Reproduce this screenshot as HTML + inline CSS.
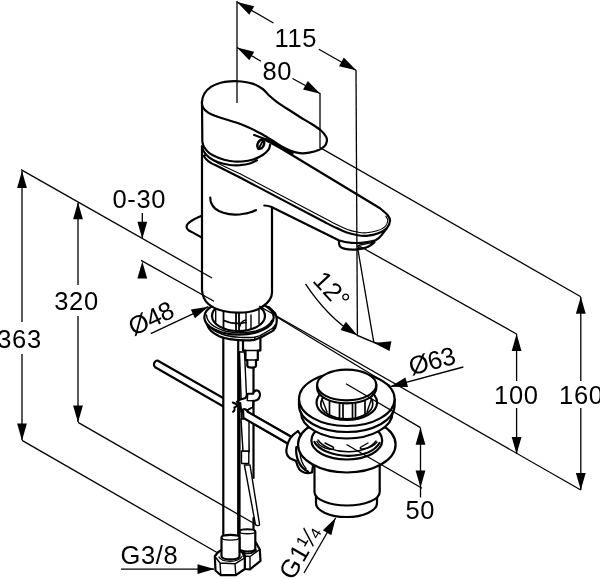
<!DOCTYPE html>
<html><head><meta charset="utf-8">
<style>
html,body{margin:0;padding:0;background:#fff;}
svg{display:block;will-change:transform;}
text{font-family:"Liberation Sans",sans-serif;fill:#000;}
.k{fill:none;stroke:#000;stroke-width:2.2;stroke-linecap:round;stroke-linejoin:round;}
.kw{fill:#fff;stroke:#000;stroke-width:2.2;stroke-linecap:round;stroke-linejoin:round;}
.m{fill:none;stroke:#000;stroke-width:1.4;stroke-linecap:round;stroke-linejoin:round;}
.mw{fill:#fff;stroke:#000;stroke-width:1.4;stroke-linecap:round;stroke-linejoin:round;}
.t{fill:none;stroke:#000;stroke-width:1.3;}
.a{fill:#000;stroke:none;}
</style></head>
<body>
<svg width="600" height="579" viewBox="0 0 600 579">
<rect width="600" height="579" fill="#fff"/>


<!-- ===== OBJECT ===== -->
<g id="obj">
  <!-- horizontal pop-up rod -->
  <path class="kw" d="M157.5 360.5L296 439.5L293 446.5L155.2 367.2A3.4 3.8 30 0 1 157.5 360.5Z"/>
  <!-- right hose -->
  <path class="kw" style="stroke:none" d="M239.500 352V531H253.500V366Z"/>
  <path class="k" d="M239.500 352V531M253.500 366V478M253.500 518V531"/>
  <!-- right nut -->
  <path class="kw" d="M244.700 556L243 541L250 539.500L256 542.700L259.800 549.500L260.500 560.800L250 569.300L244.700 569Z"/>
  <path class="m" d="M244.700 556L250 556.500L259.800 549.500M250 556.500V569.300"/>
  <path class="m" d="M240 551C243 554.500 252 554.500 256.500 550"/>
  <!-- right ferrule -->
  <path class="kw" d="M239.500 531.500C239.500 528.500 255.300 528.500 255.300 531.500V548.500C255.300 552.500 239.500 552.500 239.500 548.500Z"/>
  <path class="m" d="M239.500 531.500C239.500 534.500 255.300 534.500 255.300 531.500"/>
  <!-- left hose -->
  <path class="kw" d="M223.300 335V536H238.200V335"/>
  <!-- left nut -->
  <path class="kw" d="M214.800 556.300L217.800 552.500L223 549H236L242.500 552.500L244.800 557.800V569L235.800 575.200H220.800L215.500 570.500Z"/>
  <path class="m" d="M214.800 556.300L220 563L235 563.800L244.800 557.800M220 563L220.800 575.200M235 563.800L235.800 575.200"/>
  <path class="m" d="M219 557C222 562.500 238 563 242 556.500"/>
  <!-- left ferrule -->
  <path class="kw" d="M221.500 537.500C221.500 534 239.500 534 239.500 537.500V556C239.500 560.500 221.500 560.500 221.500 556Z"/>
  <path class="m" d="M221.500 537.500C221.500 541 239.500 541 239.500 537.500"/>
  <!-- thin vertical rod + clip -->
  <path class="mw" d="M239.5 352L243 452L249 452L244.5 352Z"/>
  <path class="mw" d="M244.4 465L255.3 523.7A2.2 1.5 10 0 0 259.6 524.6L250 465Z"/>
  <path class="mw" d="M241.5 451H248.8V463.5H241.5Z"/>
  <path class="mw" d="M241 419H249V451H243Z"/>
  <!-- clip on hoses -->
  <path class="kw" d="M236.800 401.800L240.500 399.500L245.600 398L247.700 393.800L253.200 393.800C253.800 391.500 255.500 390 257.500 390.500C259.500 391.500 260.200 394 259.800 396C259.300 398.500 257.500 400.500 254.600 400.700L253.200 400.700L253 407L248.300 409.700L241.400 411.800L240.200 403Z" style="stroke-width:2"/>
  <path class="k" d="M247.700 393.800L247.200 400.500M247.200 400.500L253.200 400.700" style="stroke-width:1.500"/>
  <path class="k" d="M232.800 402.500C235 403.300 236.800 404.300 237 405.300C236.300 406.800 235 407.300 234.300 407.500C235.200 409 234.500 411 233 411.800" style="stroke-width:2"/>
  <!-- rod part in front (right of hoses) -->
  <path class="kw" d="M243 409.5C245 408.5 247 409.5 247.6 411.8L296 439.5L293 446.5L243.5 418Z"/>

  <!-- stud below base -->
  <path class="kw" d="M243 341V350.5H245.5V360H247.3V365.5C247.3 368.3 256 368.3 256 365.5V360H257.8V350.5H260.4V338"/>
  <path class="m" d="M243 350.5H260.4M245.5 360H257.8"/>

  <!-- base ring : lower washer / nut -->
  <path class="kw" d="M206.500 320C206.500 327 211 332.500 219.200 336.200C226 339 240 341.500 254.700 339.800L261.700 337L273.200 330.600L275.400 327.500C277 323 277 317 275.200 313.400L268.800 307Z"/>
  <path class="m" d="M207.500 322.500C209 328 214 331.800 226.300 335.500C233 337.300 247 338 254.700 337.200L260.300 335.600L273 328L275.200 325"/>
  <path class="m" d="M254.700 337.200V339.800M260.300 335.600L261.700 337M273 328L273.200 330.600"/>
  <ellipse class="kw" cx="239" cy="317.200" rx="34.700" ry="17.500"/>
  <path class="m" d="M206.500 315C207 322 214 328 226 331.200C236 333.300 248 333 256 331C264 328.500 270 324.500 272 320"/>
  <ellipse class="kw" cx="238.500" cy="316" rx="26.500" ry="15"/>
  <!-- shank inside ring -->
  <path class="k" d="M223.500 311V328.500M236 312V331M239 312V331" style="stroke-width:1.800"/>
  <path class="m" d="M215.700 308V322M246 313V330M259 310V324M251 315V329"/>
  <path class="k" d="M224 320.500C230 323.500 238 324 246 322.500" style="stroke-width:1.600"/>
  <path class="m" d="M240 326C241 322 243 320.500 246 320"/>

  <!-- pop-up knob -->
  <path class="kw" d="M203 215.200C197.500 217.300 191 220.500 187.800 223.700C186 225.500 186 228.500 188.500 230.200C191.500 232 197.500 234.800 203 238.300Z"/>

  <!-- BODY -->
  <path class="kw" d="M202 146V290C202.300 296 204.500 300.500 208.400 304C212 307.300 217 309.500 223.500 311C229 312.300 234 312.700 238.600 312.600C247 312.500 254 311.500 259 308.700C263 306.500 266.700 303.900 269.500 300C271.500 297 272 295 272 292.800V150Z"/>
  <path class="k" d="M210.3 197.6C210.4 198.5 210.3 201.0 211.1 202.8C211.9 204.7 213.2 207.0 215.2 208.7C217.2 210.4 220.0 211.8 223.3 212.8C226.6 213.8 231.1 214.6 235.0 214.7C238.9 214.8 243.8 213.8 246.7 213.3C249.6 212.8 250.9 212.1 252.5 211.6C254.1 211.1 255.4 210.3 256.0 210.1"/>

  <!-- SPOUT -->
  <!-- underside / side face -->
  <path class="kw" style="stroke:none" d="M264.300 205.500C267 205.600 269 206 271 206.800L338.700 240.200C343 241.800 347 242.600 351.700 242.900C357 243.200 361 243 365.800 242.300C369.500 241.700 373 241 375.500 240.200C378 239 380 237.500 381 235.800L386.700 228.300L300 190L240 170Z"/>
  <!-- aerator -->
  <path class="kw" d="M338.900 240.500C338.900 243.500 339.200 245 339.800 246.100C340.800 247.500 342.500 248.200 344 248.600C348 249.600 353 249.800 357 249.400C361 249 364 248.300 366.800 247.200C370 245.800 372.800 244.300 374.400 242.300L374 238L345 238Z"/>
  <path class="m" d="M357.600 246.100C358.500 245 360.500 244.700 362.500 244.500C366 243.800 370 243 373.300 242.300M357.600 246.100C358 247.500 360 248.300 362.500 248.300C366 248 371 245.500 373.500 242.500"/>
  <path class="kw" d="M264.300 205.500C267 205.600 269 206 271 206.800L338.700 240.200C343 241.800 347 242.600 351.700 242.900C357 243.200 361 243 365.800 242.300C369.500 241.700 373 241 375.500 240.200C378 239 380 237.500 381 235.800L386.700 228.300L300 190L240 170Z" style="stroke:none"/>
  <path class="k" d="M264.300 205.500C267 205.600 269 206 271 206.800L338.700 240.200C343 241.800 347 242.600 351.700 242.900C357 243.200 361 243 365.800 242.300C369.500 241.700 373 241 375.500 240.200C378 239 380 237.500 381 235.800L386.700 228.300"/>
  <!-- top surface -->
  <path class="kw" d="M203.800 155.900C206 160 210 163 215.700 165.200L240 177.500L325.0 222.3C326.8 223.2 332.4 226.1 336.0 227.8C339.6 229.5 343.2 231.3 346.7 232.5C350.1 233.7 353.4 234.4 356.7 235.0C360.0 235.6 363.1 236.1 366.7 235.8C370.3 235.5 375.0 234.6 378.3 233.3C381.6 232.1 384.8 230.4 386.7 228.3C388.6 226.2 389.9 223.0 390.0 220.8C390.1 218.6 389.2 217.1 387.5 215.0C385.8 212.9 381.2 209.4 380.0 208.3L268.800 141L230 140Z"/>
  <path class="m" d="M205.400 153.300C208 157 215 162.500 226 167.300L240 173.700L326.0 218.9C327.8 219.9 333.4 223.0 337.0 224.8C340.6 226.6 344.2 228.3 347.5 229.5C350.8 230.7 353.8 231.4 357.0 232.0C360.2 232.6 363.2 233.0 366.5 232.8C369.8 232.6 373.9 231.8 377.0 230.8C380.1 229.8 383.0 228.5 384.8 226.8C386.6 225.1 387.6 222.6 387.8 220.8C388.0 219.0 386.1 217.0 385.8 216.2" style="stroke-width:1.100"/>

  <!-- body top ring -->
  <path class="kw" d="M202.3 147.0C202.6 147.8 202.7 149.8 203.8 151.5C204.9 153.2 206.6 155.5 209.0 157.3C211.4 159.1 214.8 161.0 218.3 162.3C221.8 163.6 226.4 164.5 230.0 165.0C233.6 165.5 236.7 165.4 240.0 165.2C243.3 164.9 247.2 164.3 250.0 163.5C252.8 162.7 255.8 160.8 257.0 160.3L270.500 140L201.500 140Z" style="stroke:none"/>
  <path class="k" d="M202.3 147.0C202.6 147.8 202.7 149.8 203.8 151.5C204.9 153.2 206.6 155.5 209.0 157.3C211.4 159.1 214.8 161.0 218.3 162.3C221.8 163.6 226.4 164.5 230.0 165.0C233.6 165.5 236.7 165.4 240.0 165.2C243.3 164.9 247.2 164.3 250.0 163.5C252.8 162.7 255.8 160.8 257.0 160.3"/>

  <!-- HANDLE -->
  <path class="kw" d="M202 101.800L202.3 138.0C202.3 138.8 202.2 141.1 202.5 142.7C202.8 144.2 203.2 145.6 204.3 147.3C205.4 149.0 206.7 151.1 209.0 152.8C211.3 154.6 214.8 156.4 218.3 157.8C221.8 159.2 226.1 160.4 230.0 161.0C233.9 161.6 237.8 161.8 241.7 161.5C245.6 161.2 249.8 160.6 253.3 159.5C256.8 158.4 260.2 156.6 262.7 155.0C265.2 153.4 267.3 151.4 268.5 149.7C269.7 148.0 269.8 145.8 270.1 145.0L300 153.800L265 125Z" style="stroke:none"/>
  <path class="k" d="M202 101.800L202.3 138.0C202.3 138.8 202.2 141.1 202.5 142.7C202.8 144.2 203.2 145.6 204.3 147.3C205.4 149.0 206.7 151.1 209.0 152.8C211.3 154.6 214.8 156.4 218.3 157.8C221.8 159.2 226.1 160.4 230.0 161.0C233.9 161.6 237.8 161.8 241.7 161.5C245.6 161.2 249.8 160.6 253.3 159.5C256.8 158.4 260.2 156.6 262.7 155.0C265.2 153.4 267.3 151.4 268.5 149.7C269.7 148.0 269.8 145.8 270.1 145.0"/>
  <!-- lever underside -->
  <path class="k" d="M254.200 135L266 139.500"/>
  <path class="k" d="M266 139.800L292 153.300" style="stroke-width:3.400"/>
  <!-- screw hole -->
  <ellipse class="kw" cx="260.800" cy="144.300" rx="3.100" ry="4.700" transform="rotate(24 260.8 144.3)" style="stroke-width:2.500"/>
  <path class="m" d="M258.300 149.300L264 138.800" style="stroke-width:1.800"/>
  <path class="kw" d="M202.0 101.8C202.2 99.5 202.8 96.2 204.3 93.7C205.9 91.2 208.6 88.5 211.3 86.7C214.0 84.9 217.6 83.6 220.7 82.7C223.8 81.8 226.5 81.5 230.0 81.3C233.5 81.1 237.8 81.1 241.7 81.5C245.6 81.9 249.8 82.7 253.3 83.9C256.8 85.2 260.0 87.0 262.7 89.0C265.4 91.0 267.4 93.9 269.7 96.0C272.0 98.1 273.6 99.5 276.7 101.8C279.8 104.0 284.4 107.0 288.3 109.5C292.2 112.0 296.1 114.6 300.0 117.0C303.9 119.4 308.2 121.8 311.7 124.0C315.2 126.2 318.6 128.4 321.0 130.5C323.4 132.6 325.1 135.0 326.1 136.8C327.1 138.6 327.1 139.9 326.8 141.5C326.5 143.1 325.9 144.8 324.5 146.2C323.1 147.6 321.2 149.0 318.7 150.1C316.2 151.2 312.4 152.2 309.3 152.7C306.2 153.2 303.1 153.5 300.0 153.2C296.9 152.9 293.8 152.0 290.7 150.8C287.6 149.6 284.4 147.9 281.3 146.2C278.2 144.4 275.5 142.5 272.0 140.3C268.5 138.2 264.2 135.4 260.3 133.3C256.4 131.2 252.6 129.2 248.7 127.5C244.8 125.8 240.9 124.2 237.0 122.8C233.1 121.4 229.0 120.5 225.3 119.3C221.6 118.1 217.7 117.0 214.8 115.8C211.9 114.6 209.7 113.6 207.8 112.3C205.9 111.0 204.2 109.5 203.2 107.7C202.2 106.0 201.8 104.1 202.0 101.8Z"/>

  <!-- ===== DRAIN ===== -->
  <g id="drain">
  <!-- lower narrow cylinder -->
  <path class="kw" d="M316 480V503A30.500 14 0 0 0 377 503V480Z"/>
  <!-- upper cylinder -->
  <path class="kw" d="M314.500 445V492A32.600 13.500 0 0 0 379.700 492V445Z"/>
  <!-- rod clamp on left -->
  <path class="kw" d="M298 431L292.800 435.200C289.500 438.500 287 444 286.300 450.300C286.300 454 288 457 290.500 458.500L296 461C297 465 298 467.500 299.500 469.500C302 472 305 473.200 308 473.200L312 472.500L313 466L304 440Z"/>
  <path class="k" d="M296.300 447C295.800 452 296.500 457 298.500 461.500C300.500 466 303.500 469.500 308 471.500"/>
  <path class="m" d="M300 452C300.200 458 302 464 306 468.500"/>
  <!-- lower ring -->
  <ellipse class="kw" cx="346.800" cy="444.500" rx="48.800" ry="28"/>
  <ellipse class="kw" cx="346.800" cy="440.500" rx="35.400" ry="19"/>
  <path class="k" d="M314.500 442C318 449.500 333 456 349 455.800C364 455.500 375 450.500 379.500 443"/>
  <path class="m" d="M318 440C323 447.500 336 452 349 451.800C361 451.500 371 447.500 376 441"/>
  <path class="m" d="M317 441.500C319 446 323 448 330 449.300C333 449.800 334.500 448.500 333 447L325 443M377 442C374 446 370 448 363 449C360.500 449.300 359.500 448.300 361 447L368 443"/>
  <!-- gasket -->
  <ellipse class="kw" cx="346.800" cy="412.500" rx="45.800" ry="26"/>
  <!-- flange lower edge -->
  <path class="kw" d="M299 399V405.300A47.800 26.700 0 0 0 394.600 405.300V399Z"/>
  <!-- flange top -->
  <ellipse class="kw" cx="346.800" cy="399" rx="47.800" ry="27"/>
  <!-- hole -->
  <ellipse class="kw" cx="346.800" cy="402.500" rx="30.300" ry="17.500"/>
  <ellipse class="k" cx="346.800" cy="404" rx="26" ry="14.800" style="stroke-width:1.700"/>
  <!-- cage bars -->
  <path class="k" d="M329.500 401V415.500M339.500 402V418.500M343 402V418.500M352.500 402V418.500M355.500 402V418.500M365 401V415.500" style="stroke-width:1.700"/>
  <path class="m" d="M322 399L327 412M371.500 399L367 412"/>
  <!-- cap rim + cap -->
  <path class="kw" d="M317.100 385V388A29.600 15.400 0 0 0 376.300 388V385Z"/>
  <ellipse class="kw" cx="346.700" cy="385" rx="29.600" ry="15.400"/>
  </g>
</g>

<!-- ===== DIMENSION / EXTENSION THIN LINES ===== -->
<g class="t" id="dims">
  <!-- top vertical + 115 / 80 -->
  <path d="M237 1V103"/>
  <path d="M237 2L273.5 23M318.8 49.2L356 70.3"/>
  <path d="M237 47.5L261 61.2M292.5 78.5L320 93.5"/>
  <path d="M320 93V147.5L580.8 296.7"/>
  <path d="M356 70L357.4 336.3"/>
  <path d="M357.6 247.6L373.9 343.2"/>
  <path d="M357.5 245L516.6 334"/>
  <!-- right verticals -->
  <path d="M580.8 297V381M580.8 408V490"/>
  <path d="M516.6 334V381M516.6 408V454"/>
  <path d="M420.5 428V497.500"/>
  <path d="M346 383.8L420.5 427.6M346.5 444.5L422 488.2"/>
  <!-- long basin line -->
  <path d="M259 306L580.8 490"/>
  <path d="M276 316.5L390.3 385.8"/>
  <path d="M390.3 386.7L463.3 367"/>
  <!-- left -->
  <path d="M21 169.6L212 278"/>
  <path d="M141 260.4L214 301.3"/>
  <path d="M22 171V322M22 354V440"/>
  <path d="M78 203V285M78 316V422"/>
  <path d="M142.3 213V238"/>
  <path d="M22 440.4L217 552.5"/>
  <path d="M78 422.4L255 524"/>
  <path d="M150.8 333.7L208.3 306.7"/>
  <path d="M121 569.1H214"/>
  <path d="M304 573L335.6 518"/>
  <!-- 12deg arc -->
  <path d="M305.5 283.9C318 303 337 324.500 357.4 335.300C366 339.500 376 343.500 388 346.500"/>
</g>

<!-- ===== ARROWHEADS ===== -->
<g class="a" id="arrows">
  <path d="M0 0L-17 -4.9L-17 4.9Z" transform="translate(237,2) rotate(209.7)"/>
  <path d="M0 0L-17 -4.9L-17 4.9Z" transform="translate(356.2,70.3) rotate(29.7)"/>
  <path d="M0 0L-17 -4.9L-17 4.9Z" transform="translate(237,47.5) rotate(209.7)"/>
  <path d="M0 0L-17 -4.9L-17 4.9Z" transform="translate(320.2,93.7) rotate(29.7)"/>
  <path d="M0 0L-17 -4.9L-17 4.9Z" transform="translate(22,171) rotate(-90)"/>
  <path d="M0 0L-17 -4.9L-17 4.9Z" transform="translate(22,440.4) rotate(90)"/>
  <path d="M0 0L-17 -4.9L-17 4.9Z" transform="translate(78,202.2) rotate(-90)"/>
  <path d="M0 0L-17 -4.9L-17 4.9Z" transform="translate(78,422.4) rotate(90)"/>
  <path d="M0 0L-17 -4.9L-17 4.9Z" transform="translate(142.3,238.8) rotate(90)"/>
  <path d="M0 0L-17 -4.9L-17 4.9Z" transform="translate(142.3,261.5) rotate(-90)"/>
  <path d="M0 0L-17 -4.9L-17 4.9Z" transform="translate(208.3,306.7) rotate(-25.2)"/>
  <path d="M0 0L-17 -4.9L-17 4.9Z" transform="translate(214.5,569.1) rotate(0)"/>
  <path d="M0 0L-17 -4.9L-17 4.9Z" transform="translate(335.6,518) rotate(-60)"/>
  <path d="M0 0L-17 -4.9L-17 4.9Z" transform="translate(390.3,386.7) rotate(164.9)"/>
  <path d="M0 0L-17 -4.9L-17 4.9Z" transform="translate(516.6,334) rotate(-90)"/>
  <path d="M0 0L-17 -4.9L-17 4.9Z" transform="translate(516.6,454) rotate(90)"/>
  <path d="M0 0L-17 -4.9L-17 4.9Z" transform="translate(580.8,296.7) rotate(-90)"/>
  <path d="M0 0L-17 -4.9L-17 4.9Z" transform="translate(580.8,490) rotate(90)"/>
  <path d="M0 0L-17 -4.9L-17 4.9Z" transform="translate(420.5,427.8) rotate(-90)"/>
  <path d="M0 0L-17 -4.9L-17 4.9Z" transform="translate(420.5,487.4) rotate(90)"/>
  <path d="M0 0L-17 -4.9L-17 4.9Z" transform="translate(357.4,335.3) rotate(33.5)"/>
  <path d="M0 0L-17 -4.9L-17 4.9Z" transform="translate(373.8,342.9) rotate(190.8)"/>
</g>

<!-- ===== TEXT ===== -->
<g id="txt" font-size="25.5" text-anchor="middle" letter-spacing="0.6">
  <text id="t115" x="295.8" y="46.5">115</text>
  <text id="t80" x="277.3" y="80">80</text>
  <text id="t030" x="139.3" y="208">0-30</text>
  <text id="t320" x="76.5" y="310.1">320</text>
  <text id="t363" x="19.5" y="348.2">363</text>
  <text id="t100" x="516.3" y="404.3">100</text>
  <text id="t160" x="581.3" y="404.3">160</text>
  <text id="t50" x="420.3" y="519.4">50</text>
  <text id="tg38" x="149.4" y="564.2">G3/8</text>
  <text id="t48" transform="translate(150.8,318.3) rotate(-25)" x="0" y="9" letter-spacing="-0.5">Ø48</text>
  <text id="t63" transform="translate(431.8,360.8) rotate(-15)" x="0" y="9" letter-spacing="-0.5">Ø63</text>
  <text id="t12" transform="translate(332,290) rotate(47)" x="0" y="9">12°</text>
  <text id="tg114" transform="translate(299.5,552) rotate(-60)" x="0" y="9">G1¼</text>
</g>
</svg>
</body></html>
